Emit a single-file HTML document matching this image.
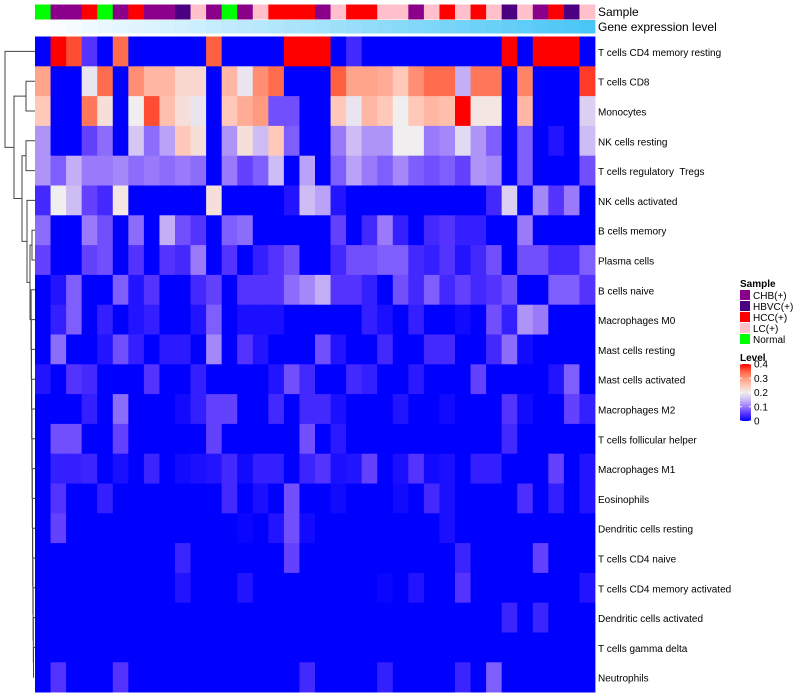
<!DOCTYPE html>
<html><head><meta charset="utf-8"><style>
body{margin:0;background:#fff;width:800px;height:700px;overflow:hidden}
svg{display:block;font-family:"Liberation Sans",sans-serif}
#rowlabels text{white-space:pre}
</style></head><body>
<svg id="chart" width="800" height="700" xmlns="http://www.w3.org/2000/svg">
<g id="dendro" stroke="#444" stroke-width="1" fill="none"></g>
<g id="anno"></g>
<g id="cells"></g>
<g id="rowlabels" font-size="10" fill="#000"></g>
<text x="598" y="16" font-size="12">Sample</text>
<text x="598" y="31" font-size="12">Gene expression level</text>
<g id="legend" font-size="10"></g>
</svg>
<script>
const rowNames = ["T cells CD4 memory resting","T cells CD8","Monocytes","NK cells resting","T cells regulatory  Tregs","NK cells activated","B cells memory","Plasma cells","B cells naive","Macrophages M0","Mast cells resting","Mast cells activated","Macrophages M2","T cells follicular helper","Macrophages M1","Eosinophils","Dendritic cells resting","T cells CD4 naive","T cells CD4 memory activated","Dendritic cells activated","T cells gamma delta","Neutrophils"];
const sampleGroups = ["Normal","CHB(+)","CHB(+)","HCC(+)","Normal","CHB(+)","HCC(+)","CHB(+)","CHB(+)","HBVC(+)","LC(+)","CHB(+)","Normal","CHB(+)","LC(+)","HCC(+)","HCC(+)","HCC(+)","CHB(+)","LC(+)","HCC(+)","HCC(+)","LC(+)","LC(+)","CHB(+)","LC(+)","HCC(+)","LC(+)","HCC(+)","LC(+)","HBVC(+)","LC(+)","CHB(+)","HCC(+)","HBVC(+)","LC(+)"];
const groupNames = ["CHB(+)","HBVC(+)","HCC(+)","LC(+)","Normal"];
const groupColors = ["#8B008B","#4B0082","#FF0000","#FFC0CB","#00FF00"];
const levelTicks = [0.4,0.3,0.2,0.1,0];
const r1 = [0,0.4,0.36,0.05,0,0.34,0,0,0,0,0,0.35,0,0,0,0,0.4,0.4,0.4,0,0.04,0,0,0,0,0,0,0,0,0,0.4,0,0.4,0.4,0.4,0];
const r2 = [0.29,0,0,0.19,0.34,0,0.31,0.27,0.27,0.23,0.23,0,0.27,0.19,0.31,0.34,0,0,0,0.35,0.29,0.29,0.28,0.25,0.31,0.34,0.34,0.14,0.33,0.33,0,0.32,0,0,0,0.37];
const r3 = [0.25,0,0,0.33,0.22,0,0.2,0.36,0.26,0.22,0.19,0,0.25,0.28,0.3,0.07,0.07,0,0,0.25,0.19,0.27,0.25,0.2,0.25,0.27,0.26,0.4,0.21,0.21,0,0.27,0,0,0,0.17];
const r4 = [0.12,0,0,0.06,0.09,0,0.16,0.09,0.13,0.25,0.22,0,0.12,0.22,0.15,0.25,0.08,0,0,0.1,0.15,0.12,0.12,0.2,0.2,0.1,0.11,0.18,0.12,0.08,0,0.08,0,0.02,0,0.15];
const r5 = [0.12,0.08,0.14,0.1,0.1,0.11,0.09,0.1,0.09,0.1,0.09,0,0.1,0.06,0.08,0.15,0,0.13,0,0.08,0.13,0.1,0.08,0.11,0.08,0.07,0.08,0.06,0.12,0.11,0,0.08,0,0,0,0.07];
const r6 = [0.04,0.2,0.15,0.06,0.04,0.21,0,0,0,0,0,0.22,0,0,0,0,0.02,0.15,0.13,0.02,0,0,0,0,0,0,0,0,0,0.04,0.17,0,0.11,0.05,0.1,0];
const r7 = [0.09,0,0,0.1,0.07,0,0.09,0,0.14,0.07,0.05,0,0.08,0.09,0,0,0,0,0,0.06,0,0.04,0.1,0.03,0,0.04,0.05,0.03,0.03,0,0,0.1,0,0,0,0];
const r8 = [0.06,0,0,0.06,0.07,0,0.05,0,0.05,0.04,0.1,0,0.05,0,0.03,0.05,0.07,0,0,0.04,0.07,0.07,0.08,0.08,0.04,0.03,0.05,0.02,0.04,0.07,0,0.07,0.07,0.04,0.04,0.08];
const r9 = [0,0.02,0.08,0,0,0.08,0.02,0.05,0,0,0.04,0.06,0,0.05,0.05,0.05,0.09,0.11,0.14,0.05,0.05,0.03,0,0.07,0.04,0.08,0.04,0.06,0.04,0.05,0.07,0,0,0.08,0.08,0.05];
const r10 = [0,0.03,0.08,0,0.03,0,0.02,0.03,0,0,0.02,0.08,0,0.015,0.015,0.015,0,0,0,0,0,0.03,0.015,0,0.03,0,0,0.01,0,0.07,0.03,0.12,0.1,0,0,0];
const r11 = [0,0.09,0,0,0.02,0.07,0.03,0,0.025,0.025,0,0.11,0,0.05,0.02,0,0,0,0.07,0.02,0,0,0.04,0,0,0.04,0.04,0,0,0.04,0.09,0.01,0,0,0,0];
const r12 = [0.02,0,0.05,0.04,0,0,0,0.05,0,0,0.03,0,0,0,0,0.02,0.07,0.04,0,0,0.04,0.03,0,0,0.025,0,0,0,0.06,0,0,0,0,0.02,0.08,0];
const r13 = [0,0,0,0.03,0,0.09,0,0,0,0.01,0.03,0.06,0.06,0,0,0.04,0,0.04,0.04,0.015,0,0,0,0.02,0,0,0.01,0,0,0,0.05,0.01,0,0,0.06,0.03];
const r14 = [0,0.07,0.07,0,0,0.06,0,0,0,0,0,0.06,0,0,0,0,0,0.07,0,0.025,0,0,0,0,0,0,0,0,0,0,0.04,0,0,0,0,0];
const r15 = [0,0.03,0.03,0.035,0,0.015,0,0.035,0,0.01,0.015,0.02,0.04,0.01,0.03,0.03,0,0.035,0.05,0.015,0.02,0.06,0,0.015,0.05,0.01,0.015,0,0.03,0.03,0,0,0,0.06,0,0.02];
const r16 = [0,0.05,0,0,0.03,0,0,0,0,0,0,0,0.04,0,0.015,0,0.07,0,0,0.01,0,0,0,0.01,0,0.04,0.015,0,0,0,0,0.045,0,0.03,0,0.02];
const r17 = [0,0.06,0,0,0,0,0,0,0,0,0,0,0,0.005,0,0.02,0.07,0.01,0,0,0,0,0,0,0,0,0.015,0,0,0,0,0,0,0,0,0];
const r18 = [0,0,0,0,0,0,0,0,0,0.035,0,0,0,0,0,0,0.06,0,0,0,0,0,0,0,0,0,0,0.035,0,0,0,0,0.06,0,0,0];
const r19 = [0,0,0,0,0,0,0,0,0,0.02,0,0,0,0.02,0,0,0,0,0,0,0,0,0.005,0,0.02,0,0,0.05,0,0,0,0,0,0,0,0.02];
const r20 = [0,0,0,0,0,0,0,0,0,0,0,0,0,0,0,0,0,0,0,0,0,0,0,0,0,0,0,0,0,0,0.035,0,0.035,0,0,0];
const r21 = [0,0,0,0,0,0,0,0,0,0,0,0,0,0,0,0,0,0,0,0,0,0,0,0,0,0,0,0,0,0,0,0,0,0,0,0];
const r22 = [0,0.05,0,0,0,0.05,0,0,0,0,0,0,0,0,0,0,0,0.04,0,0,0,0,0.03,0,0,0,0,0.035,0,0.08,0,0,0,0,0,0];
const values = [r1,r2,r3,r4,r5,r6,r7,r8,r9,r10,r11,r12,r13,r14,r15,r16,r17,r18,r19,r20,r21,r22];

const NS = "http://www.w3.org/2000/svg";
const X0 = 35, X1 = 595, Y0 = 36.5, RH = 29.8;
const nCol = sampleGroups.length;
const CW = (X1 - X0) / nCol;
function xPos(j){ return X0 + j * CW; }
function yPos(i){ return Y0 + i * RH; }
const stops = [[0,[0,0,255]],[0.05,[85,51,255]],[0.1,[154,122,250]],[0.15,[206,188,245]],[0.2,[240,238,238]],[0.25,[255,200,184]],[0.3,[255,154,128]],[0.35,[255,96,64]],[0.4,[255,0,0]]];
function colorOf(v){
  v = Math.max(0, Math.min(0.4, v));
  for (let k = 0; k < stops.length - 1; k++){
    const a = stops[k], b = stops[k+1];
    if (v <= b[0]){
      const t = (v - a[0]) / (b[0] - a[0]);
      const c = a[1].map((x, q) => Math.round(x + (b[1][q] - x) * t));
      return "rgb(" + c.join(",") + ")";
    }
  }
  return "rgb(255,0,0)";
}
function mk(tag, attrs, parent){
  const e = document.createElementNS(NS, tag);
  for (const k in attrs) e.setAttribute(k, attrs[k]);
  parent.appendChild(e);
  return e;
}
const cells = document.getElementById("cells");
values.forEach((row, i) => {
  row.forEach((v, j) => {
    const r = mk("rect", {x: xPos(j), y: yPos(i), width: CW + 0.4, height: RH + 0.4, fill: colorOf(v)}, cells);
    
    
  });
});
const rl = document.getElementById("rowlabels");
rowNames.forEach((n, i) => {
  const t = mk("text", {x: 598, y: yPos(i) + RH/2 + 4.5}, rl);
  t.textContent = n;
  
  
});
const anno = document.getElementById("anno");
sampleGroups.forEach((g, j) => {
  const r = mk("rect", {x: xPos(j), y: 4.5, width: CW + 0.4, height: 15, fill: groupColors[groupNames.indexOf(g)]}, anno);
  
  
  const t = j / (nCol - 1);
  const c = [255 + (74-255)*t, 255 + (198-255)*t, 255 + (246-255)*t].map(Math.round);
  const r2 = mk("rect", {x: xPos(j), y: 20, width: CW + 0.4, height: 13.5, fill: "rgb(" + c.join(",") + ")"}, anno);
  
  
});
const lg = document.getElementById("legend");
const st = mk("text", {x: 740, y: 287, "font-weight": "bold"}, lg); st.textContent = "Sample";


groupNames.forEach((g, k) => {
  const r = mk("rect", {x: 740, y: 290 + k*11, width: 10, height: 10, fill: groupColors[k]}, lg);
  
  
  const t = mk("text", {x: 753, y: 299 + k*11}, lg); t.textContent = g;
  
  
});
const lt = mk("text", {x: 740, y: 361, "font-weight": "bold"}, lg); lt.textContent = "Level";


const defs = mk("defs", {}, lg);
const grad = mk("linearGradient", {id: "lvl", x1: 0, y1: 1, x2: 0, y2: 0}, defs);
stops.forEach(s => mk("stop", {offset: s[0]/0.4, "stop-color": colorOf(s[0])}, grad));
const bar = mk("rect", {x: 740, y: 364, width: 11, height: 57, fill: "url(#lvl)"}, lg);


levelTicks.forEach(v => {
  const y = 421 - (v/0.4)*57;
  mk("line", {x1: 740, x2: 742, y1: y, y2: y, stroke: "#fff"}, lg);
  mk("line", {x1: 749, x2: 751, y1: y, y2: y, stroke: "#fff"}, lg);
  const t = mk("text", {x: 754, y: y + 3.5}, lg); t.textContent = String(v);
  
  
});
const dg = document.getElementById("dendro");
function c(i){ return yPos(i) + RH/2; }
function node(x, ya, yb, xa, xb){
  mk("path", {d: `M${xa},${ya}H${x}V${yb}H${xb}`}, dg);
}
let yE = c(21), xE = 34;
for (let i = 20; i >= 8; i--){
  const nx = 33.5 - (20 - i) * 0.2;
  node(nx, c(i), yE, 35, xE);
  yE = (c(i) + yE) / 2; xE = nx;
}
node(32, c(6), c(7), 35, 35);
const yC = (c(6)+c(7))/2;
node(30, yC, yE, 32, xE);
const yF = (yC + yE)/2;
node(27, c(5), yF, 35, 30);
const yG = (c(5)+yF)/2;
node(26, c(3), c(4), 35, 35);
const yB = (c(3)+c(4))/2;
node(22, yB, yG, 26, 27);
const yH = (yB+yG)/2;
node(26, c(1), c(2), 35, 35);
const yA = (c(1)+c(2))/2;
node(14, yA, yH, 26, 22);
const yI = (yA+yH)/2;
node(5, c(0), yI, 35, 14);
</script>
</body></html>
